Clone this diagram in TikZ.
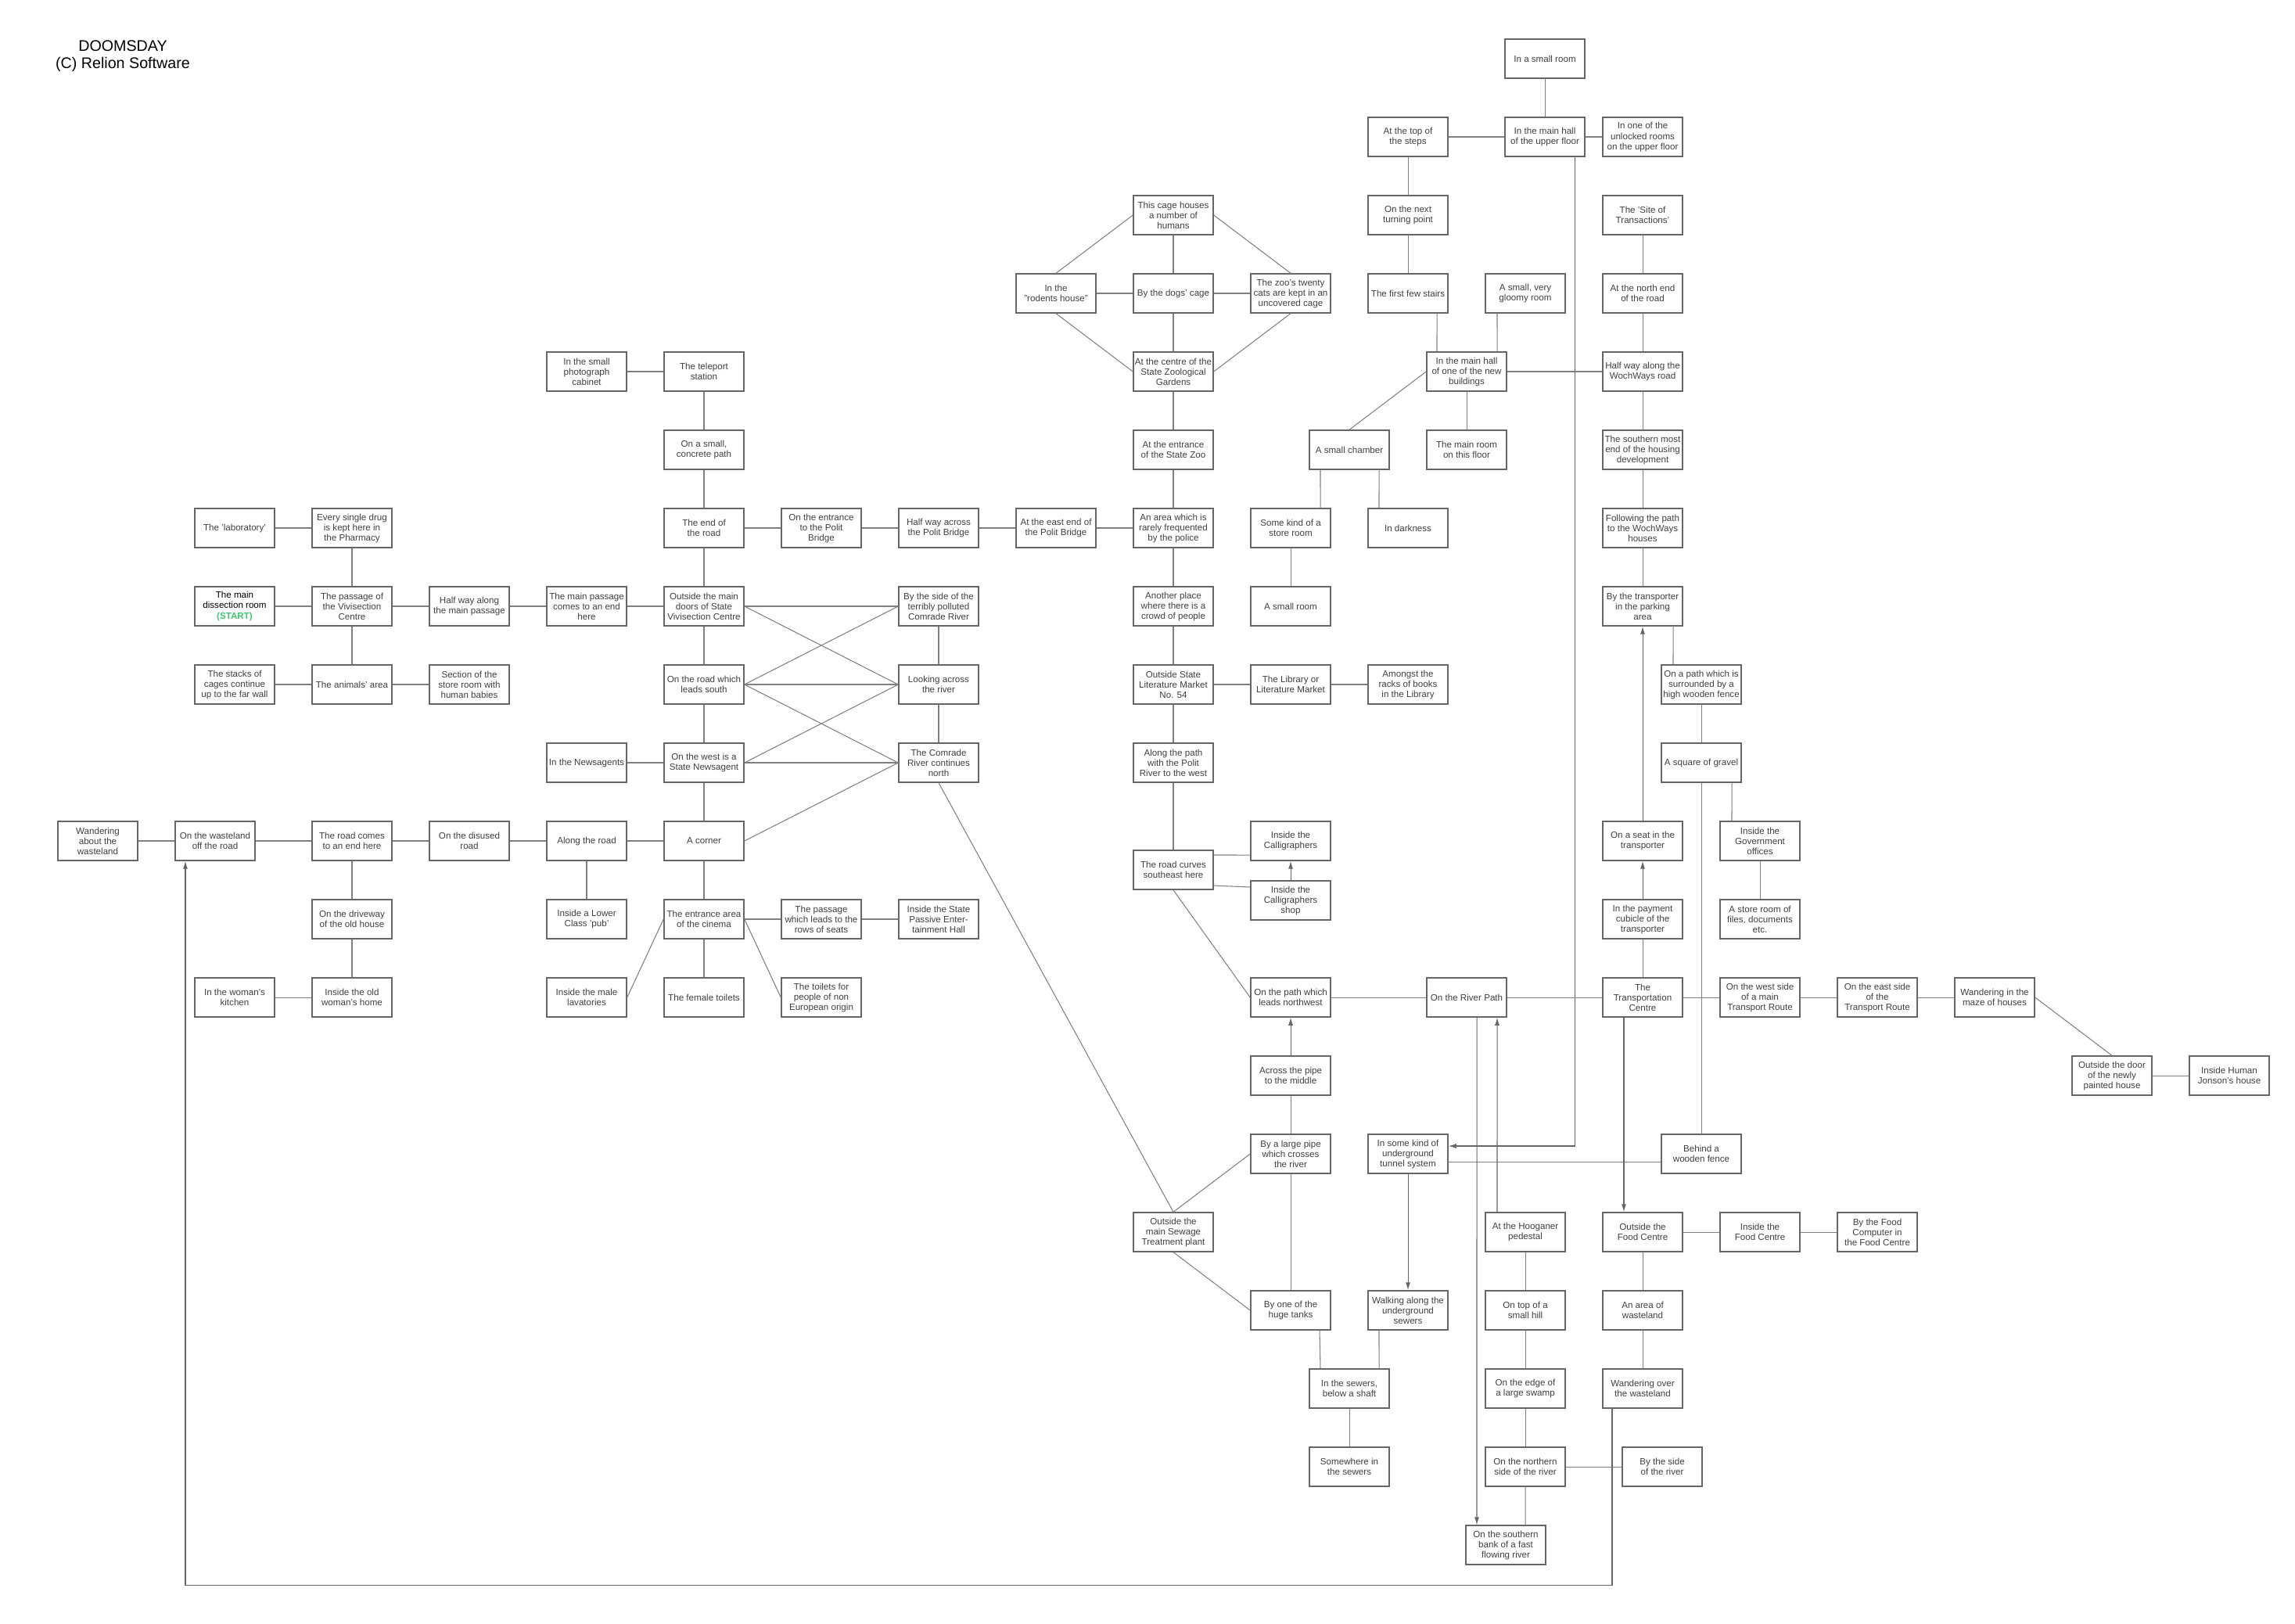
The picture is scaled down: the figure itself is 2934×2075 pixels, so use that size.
\documentclass[tikz,border=0pt]{standalone}
\usepackage{fontspec}
\setmainfont{Liberation Sans}
\usetikzlibrary{arrows.meta}

\definecolor{startgreen}{RGB}{60,200,110}

\tikzset{
	room/.style={draw=black!60, line width=0.4pt, minimum width=1.02cm, minimum height=0.5cm,
		inner sep=0pt, align=center, text=black!75, font=\fontsize{3.3}{3.7}\selectfont},
	link/.style={draw=black!50, line width=0.3pt},
	oneway/.style={draw=black!60, line width=0.3pt, -{Latex[length=1mm,width=0.6mm]}}
}

\begin{document}
\begin{tikzpicture}[x=0.01cm, y=-0.01cm]
	\useasboundingbox (0,0) rectangle (2934,2075);

	% title
	\node[font=\fontsize{5.6}{6.3}\selectfont, align=center] (title) at (157,72) {DOOMSDAY\\(C) Relion Software};

	% draw the vivisection centre
	\node[room] (lab) at (300,675) {The 'laboratory'};
	\node[room] (drug) at (450,675) {Every single drug\\is kept here in\\the Pharmacy};
	\node[room, text=black] (dissect) at (300,775) {The main\\dissection room\\[0.3pt]{\bfseries\color{startgreen}(START)}};
	\node[room] (passage) at (450,775) {The passage of\\the Vivisection\\Centre};
	\node[room] (halfpass) at (600,775) {Half way along\\the main passage};
	\node[room] (passend) at (750,775) {The main passage\\comes to an end\\here};
	\node[room] (stacks) at (300,875) {The stacks of\\cages continue\\up to the far wall};
	\node[room] (animals) at (450,875) {The animals' area};
	\node[room] (babies) at (600,875) {Section of the\\store room with\\human babies};

	% draw the wasteland and the old house
	\node[room] (wanderabout) at (125,1075) {Wandering\\about the\\wasteland};
	\node[room] (wasteland) at (275,1075) {On the wasteland\\off the road};
	\node[room] (roadend) at (450,1075) {The road comes\\to an end here};
	\node[room] (disused) at (600,1075) {On the disused\\road};
	\node[room] (alongroad) at (750,1075) {Along the road};
	\node[room] (driveway) at (450,1175) {On the driveway\\of the old house};
	\node[room] (kitchen) at (300,1275) {In the woman's\\kitchen};
	\node[room] (oldhome) at (450,1275) {Inside the old\\woman's home};
	\node[room] (pub) at (750,1175) {Inside a Lower\\Class 'pub'};
	\node[room] (lavs) at (750,1275) {Inside the male\\lavatories};
	\node[room] (newsagents) at (750,975) {In the Newsagents};

	% draw the roads outside the centre
	\node[room] (photo) at (750,475) {In the small\\photograph\\cabinet};
	\node[room] (teleport) at (900,475) {The teleport\\station};
	\node[room] (concrete) at (900,575) {On a small,\\concrete path};
	\node[room] (endroad) at (900,675) {The end of\\the road};
	\node[room] (bridgein) at (1050,675) {On the entrance\\to the Polit\\Bridge};
	\node[room] (bridgehalf) at (1200,675) {Half way across\\the Polit Bridge};
	\node[room] (bridgeeast) at (1350,675) {At the east end of\\the Polit Bridge};
	\node[room] (maindoors) at (900,775) {Outside the main\\doors of State\\Vivisection Centre};
	\node[room] (south) at (900,875) {On the road which\\leads south};
	\node[room] (westnews) at (900,975) {On the west is a\\State Newsagent};
	\node[room] (corner) at (900,1075) {A corner};
	\node[room] (cinema) at (900,1175) {The entrance area\\of the cinema};
	\node[room] (rows) at (1050,1175) {The passage\\which leads to the\\rows of seats};
	\node[room] (passive) at (1200,1175) {Inside the State\\Passive Enter-\\tainment Hall};
	\node[room] (female) at (900,1275) {The female toilets};
	\node[room] (noneu) at (1050,1275) {The toilets for\\people of non\\European origin};
	\node[room] (riverside) at (1200,775) {By the side of the\\terribly polluted\\Comrade River};
	\node[room] (looking) at (1200,875) {Looking across\\the river};
	\node[room] (comrade) at (1200,975) {The Comrade\\River continues\\north};

	% draw the zoo and the literature market
	\node[room] (rodents) at (1350,375) {In the\\"rodents house"};
	\node[room] (cage) at (1500,275) {This cage houses\\a number of\\humans};
	\node[room] (dogs) at (1500,375) {By the dogs' cage};
	\node[room] (cats) at (1650,375) {The zoo's twenty\\cats are kept in an\\uncovered cage};
	\node[room] (zoocentre) at (1500,475) {At the centre of the\\State Zoological\\Gardens};
	\node[room] (zooentry) at (1500,575) {At the entrance\\of the State Zoo};
	\node[room] (police) at (1500,675) {An area which is\\rarely frequented\\by the police};
	\node[room] (crowd) at (1500,775) {Another place\\where there is a\\crowd of people};
	\node[room] (litmarket) at (1500,875) {Outside State\\Literature Market\\No. 54};
	\node[room] (litpath) at (1500,975) {Along the path\\with the Polit\\River to the west};
	\node[room] (curves) at (1500,1112) {The road curves\\southeast here};
	\node[room] (calli) at (1650,1075) {Inside the\\Calligraphers};
	\node[room] (shop) at (1650,1151) {Inside the\\Calligraphers\\shop};
	\node[room] (library) at (1650,875) {The Library or\\Literature Market};
	\node[room] (racks) at (1800,875) {Amongst the\\racks of books\\in the Library};
	\node[room] (store) at (1650,675) {Some kind of a\\store room};
	\node[room] (smallroom) at (1650,775) {A small room};
	\node[room] (chamber) at (1725,575) {A small chamber};
	\node[room] (darkness) at (1800,675) {In darkness};

	% draw the new buildings
	\node[room] (tinyroom) at (1975,75) {In a small room};
	\node[room] (topsteps) at (1800,175) {At the top of\\the steps};
	\node[room] (upperhall) at (1975,175) {In the main hall\\of the upper floor};
	\node[room] (unlocked) at (2100,175) {In one of the\\unlocked rooms\\on the upper floor};
	\node[room] (turning) at (1800,275) {On the next\\turning point};
	\node[room] (stairs) at (1800,375) {The first few stairs};
	\node[room] (gloomy) at (1950,375) {A small, very\\gloomy room};
	\node[room] (newhall) at (1875,475) {In the main hall\\of one of the new\\buildings};
	\node[room] (mainroom) at (1875,575) {The main room\\on this floor};

	% draw the wochways houses and the transporter
	\node[room] (site) at (2100,275) {The 'Site of\\Transactions'};
	\node[room] (northend) at (2100,375) {At the north end\\of the road};
	\node[room] (wochhalf) at (2100,475) {Half way along the\\WochWays road};
	\node[room] (southmost) at (2100,575) {The southern most\\end of the housing\\development};
	\node[room] (wochpath) at (2100,675) {Following the path\\to the WochWays\\houses};
	\node[room] (bytrans) at (2100,775) {By the transporter\\in the parking\\area};
	\node[room] (fencepath) at (2175,875) {On a path which is\\surrounded by a\\high wooden fence};
	\node[room] (gravel) at (2175,975) {A square of gravel};
	\node[room] (govt) at (2250,1075) {Inside the\\Government\\offices};
	\node[room] (files) at (2250,1175) {A store room of\\files, documents\\etc.};
	\node[room] (seat) at (2100,1075) {On a seat in the\\transporter};
	\node[room] (cubicle) at (2100,1175) {In the payment\\cubicle of the\\transporter};
	\node[room] (transport) at (2100,1275) {The\\Transportation\\Centre};
	\node[room] (westroute) at (2250,1275) {On the west side\\of a main\\Transport Route};
	\node[room] (eastroute) at (2400,1275) {On the east side\\of the\\Transport Route};
	\node[room] (maze) at (2550,1275) {Wandering in the\\maze of houses};
	\node[room] (door) at (2700,1375) {Outside the door\\of the newly\\painted house};
	\node[room] (jonson) at (2850,1375) {Inside Human\\Jonson's house};

	% draw the river path and the sewers
	\node[room] (pathnw) at (1650,1275) {On the path which\\leads northwest};
	\node[room] (riverpath) at (1875,1275) {On the River Path};
	\node[room] (across) at (1650,1375) {Across the pipe\\to the middle};
	\node[room] (bigpipe) at (1650,1475) {By a large pipe\\which crosses\\the river};
	\node[room] (sewage) at (1500,1575) {Outside the\\main Sewage\\Treatment plant};
	\node[room] (tanks) at (1650,1675) {By one of the\\huge tanks};
	\node[room] (sewers) at (1725,1775) {In the sewers,\\below a shaft};
	\node[room] (somewhere) at (1725,1875) {Somewhere in\\the sewers};
	\node[room] (tunnel) at (1800,1475) {In some kind of\\underground\\tunnel system};
	\node[room] (walking) at (1800,1675) {Walking along the\\underground\\sewers};
	\node[room] (fence) at (2175,1475) {Behind a\\wooden fence};
	\node[room] (hooganer) at (1950,1575) {At the Hooganer\\pedestal};
	\node[room] (hill) at (1950,1675) {On top of a\\small hill};
	\node[room] (swamp) at (1950,1775) {On the edge of\\a large swamp};
	\node[room] (northside) at (1950,1875) {On the northern\\side of the river};
	\node[room] (riverby) at (2125,1875) {By the side\\of the river};
	\node[room] (southbank) at (1925,1975) {On the southern\\bank of a fast\\flowing river};
	\node[room] (foodout) at (2100,1575) {Outside the\\Food Centre};
	\node[room] (foodin) at (2250,1575) {Inside the\\Food Centre};
	\node[room] (foodpc) at (2400,1575) {By the Food\\Computer in\\the Food Centre};
	\node[room] (wastearea) at (2100,1675) {An area of\\wasteland};
	\node[room] (wanderover) at (2100,1775) {Wandering over\\the wasteland};

	% connect the vivisection centre
	\draw[link] (lab) -- (drug);
	\draw[link] (drug) -- (passage);
	\draw[link] (dissect) -- (passage);
	\draw[link] (passage) -- (halfpass);
	\draw[link] (halfpass) -- (passend);
	\draw[link] (passend) -- (maindoors);
	\draw[link] (passage) -- (animals);
	\draw[link] (stacks) -- (animals);
	\draw[link] (animals) -- (babies);

	% connect the wasteland and the old house
	\draw[link] (wanderabout) -- (wasteland);
	\draw[link] (wasteland) -- (roadend);
	\draw[link] (roadend) -- (disused);
	\draw[link] (disused) -- (alongroad);
	\draw[link] (alongroad) -- (corner);
	\draw[link] (alongroad) -- (pub);
	\draw[link] (roadend) -- (driveway);
	\draw[link] (driveway) -- (oldhome);
	\draw[link] (kitchen) -- (oldhome);
	\draw[link] (newsagents) -- (westnews);

	% connect the roads outside the centre
	\draw[link] (photo) -- (teleport);
	\draw[link] (teleport) -- (concrete);
	\draw[link] (concrete) -- (endroad);
	\draw[link] (endroad) -- (maindoors);
	\draw[link] (endroad) -- (bridgein);
	\draw[link] (bridgein) -- (bridgehalf);
	\draw[link] (bridgehalf) -- (bridgeeast);
	\draw[link] (bridgeeast) -- (police);
	\draw[link] (maindoors) -- (south);
	\draw[link] (south) -- (westnews);
	\draw[link] (westnews) -- (corner);
	\draw[link] (corner) -- (cinema);
	\draw[link] (cinema) -- (rows);
	\draw[link] (rows) -- (passive);
	\draw[link] (cinema) -- (female);
	\draw[link] (cinema.east) -- (noneu.west);
	\draw[link] (lavs.east) -- (cinema.west);

	% connect the banks of the comrade river
	\draw[link] (maindoors) -- (riverside);
	\draw[link] (maindoors.east) -- (looking.west);
	\draw[link] (south.east) -- (riverside.west);
	\draw[link] (south.east) -- (looking.west);
	\draw[link] (south.east) -- (comrade.west);
	\draw[link] (westnews.east) -- (looking.west);
	\draw[link] (westnews.east) -- (comrade.west);
	\draw[link] (corner.east) -- (comrade.west);
	\draw[link] (riverside) -- (looking);
	\draw[link] (looking) -- (comrade);
	\draw[link] (comrade.south) -- (sewage.north);

	% connect the zoo and the literature market
	\draw[link] (rodents.north) -- (cage.west);
	\draw[link] (rodents) -- (dogs);
	\draw[link] (rodents.south) -- (zoocentre.west);
	\draw[link] (cage.east) -- (cats.north);
	\draw[link] (dogs) -- (cats);
	\draw[link] (zoocentre.east) -- (cats.south);
	\draw[link] (cage) -- (dogs);
	\draw[link] (dogs) -- (zoocentre);
	\draw[link] (zoocentre) -- (zooentry);
	\draw[link] (zooentry) -- (police);
	\draw[link] (police) -- (crowd);
	\draw[link] (crowd) -- (litmarket);
	\draw[link] (litmarket) -- (litpath);
	\draw[link] (litpath) -- (curves);
	\draw[link] (litmarket) -- (library);
	\draw[link] (library) -- (racks);
	\draw[link] (store) -- (smallroom);
	\draw[link] ([xshift=-0.37cm]chamber.south) -- ([xshift=0.38cm]store.north);
	\draw[link] ([xshift=0.38cm]chamber.south) -- ([xshift=-0.37cm]darkness.north);
	\draw[link] (chamber.north) -- (newhall.west);
	\draw[link] ([yshift=0.19cm]curves.east) -- ([yshift=-0.18cm]calli.west);
	\draw[link] ([yshift=-0.2cm]curves.east) -- ([yshift=0.17cm]shop.west);
	\draw[oneway] (shop) -- (calli);
	\draw[link] (curves.south) -- (pathnw.west);

	% connect the new buildings
	\draw[link] (tinyroom) -- (upperhall);
	\draw[link] (topsteps) -- (upperhall);
	\draw[link] (upperhall) -- (unlocked);
	\draw[link] (topsteps) -- (turning);
	\draw[link] (turning) -- (stairs);
	\draw[link] ([xshift=0.37cm]stairs.south) -- ([xshift=-0.38cm]newhall.north);
	\draw[link] ([xshift=-0.36cm]gloomy.south) -- ([xshift=0.39cm]newhall.north);
	\draw[link] (newhall) -- (mainroom);
	\draw[link] (newhall) -- (wochhalf);
	\draw[oneway] ([xshift=0.38cm]upperhall.south) |- ([yshift=0.1cm]tunnel.east);

	% connect the wochways houses and the transporter
	\draw[link] (site) -- (northend);
	\draw[link] (northend) -- (wochhalf);
	\draw[link] (wochhalf) -- (southmost);
	\draw[link] (southmost) -- (wochpath);
	\draw[link] (wochpath) -- (bytrans);
	\draw[link] ([xshift=0.39cm]bytrans.south) -- ([xshift=-0.36cm]fencepath.north);
	\draw[link] (fencepath) -- (gravel);
	\draw[link] ([xshift=0.39cm]gravel.south) -- ([xshift=-0.36cm]govt.north);
	\draw[link] (govt) -- (files);
	\draw[link] (gravel) -- (fence);
	\draw[oneway] (seat) -- (bytrans);
	\draw[oneway] (cubicle) -- (seat);
	\draw[link] (transport) -- (cubicle);
	\draw[link] (transport) -- (westroute);
	\draw[link] (westroute) -- (eastroute);
	\draw[link] (eastroute) -- (maze);
	\draw[link] (maze.east) -- (door.north);
	\draw[link] (door) -- (jonson);

	% connect the river path and the sewers
	\draw[link] (pathnw) -- (riverpath);
	\draw[link] (riverpath) -- (transport);
	\draw[oneway] (across) -- (pathnw);
	\draw[link] (bigpipe) -- (across);
	\draw[link] (bigpipe) -- (tanks);
	\draw[link] (sewage.north) -- (bigpipe.west);
	\draw[link] (sewage.south) -- (tanks.west);
	\draw[link] ([xshift=0.37cm]tanks.south) -- ([xshift=-0.37cm]sewers.north);
	\draw[link] ([xshift=-0.37cm]walking.south) -- ([xshift=0.38cm]sewers.north);
	\draw[link] (sewers) -- (somewhere);
	\draw[oneway] (tunnel) -- (walking);
	\draw[link] ([yshift=-0.1cm]tunnel.east) -- ([yshift=-0.1cm]fence.west);
	\draw[oneway] ([xshift=0.13cm]riverpath.south) -- ([xshift=-0.37cm]southbank.north);
	\draw[oneway] ([xshift=-0.36cm]hooganer.north) -- ([xshift=0.39cm]riverpath.south);
	\draw[link] (hooganer) -- (hill);
	\draw[link] (hill) -- (swamp);
	\draw[link] (swamp) -- (northside);
	\draw[link] (northside.south) -- ([xshift=0.25cm]southbank.north);
	\draw[link] (northside) -- (riverby);
	\draw[oneway] ([xshift=-0.24cm]transport.south) -- ([xshift=-0.24cm]foodout.north);
	\draw[link] (foodout) -- (foodin);
	\draw[link] (foodin) -- (foodpc);
	\draw[link] (foodout) -- (wastearea);
	\draw[link] (wastearea) -- (wanderover);
	\draw[oneway] ([xshift=-0.39cm]wanderover.south) -- ++(0,226) -| ([xshift=-0.38cm]wasteland.south);
\end{tikzpicture}
\end{document}
